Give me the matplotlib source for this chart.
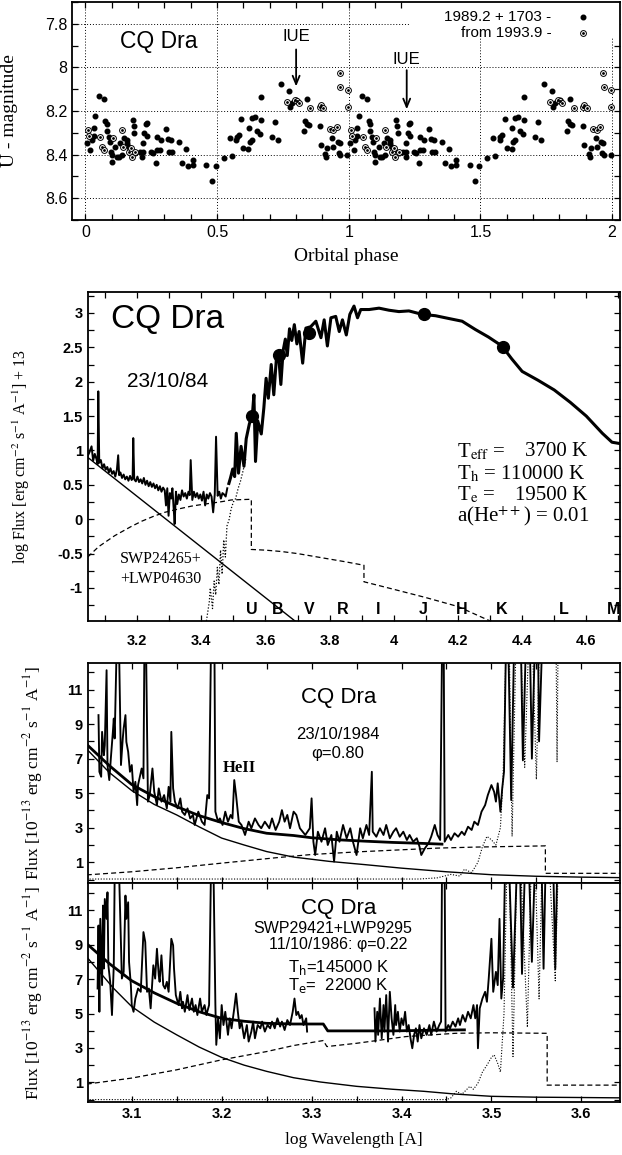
import numpy as np
import matplotlib
matplotlib.use("Agg")
import matplotlib.pyplot as plt
from matplotlib.ticker import MultipleLocator
from matplotlib.patches import Rectangle

plt.rcParams['font.family'] = ['Liberation Sans', 'DejaVu Sans']
plt.rcParams['mathtext.fontset'] = 'stix'

# ---------------- data: panel 1 (U light curve, one cycle; repeated at phase+1)
ph_fill = [0.051, 0.070, 0.038, 0.004, 0.019, 0.032, 0.032, 0.025, 0.076, 0.080,
           0.082, 0.089, 0.092, 0.097, 0.101, 0.099, 0.114, 0.120, 0.127, 0.139,
           0.133, 0.146, 0.156, 0.158, 0.165, 0.171, 0.181, 0.184, 0.186, 0.190,
           0.206, 0.219, 0.219, 0.216, 0.224, 0.232, 0.228, 0.234, 0.247, 0.257,
           0.266, 0.272, 0.270, 0.282, 0.287, 0.304, 0.313, 0.323, 0.316, 0.329,
           0.354, 0.367, 0.382, 0.389, 0.408, 0.409, 0.459, 0.481, 0.494, 0.525,
           0.548, 0.557, 0.573, 0.576, 0.582, 0.592, 0.599, 0.618, 0.620, 0.624,
           0.633, 0.633, 0.642, 0.652, 0.661, 0.665, 0.667, 0.709, 0.719, 0.730,
           0.741, 0.772, 0.776, 0.785, 0.801, 0.842, 0.832, 0.840, 0.848, 0.829,
           0.890, 0.895, 0.911, 0.915, 0.918, 0.937, 0.941, 0.958, 0.966, 0.962,
           0.968, 0.994]
mag_fill = [8.133, 8.146, 8.222, 8.347, 8.378, 8.279, 8.314, 8.332, 8.248, 8.259,
            8.294, 8.317, 8.340, 8.386, 8.401, 8.436, 8.363, 8.409, 8.409, 8.401,
            8.347, 8.324, 8.332, 8.347, 8.363, 8.378, 8.240, 8.271, 8.302, 8.393,
            8.386, 8.347, 8.386, 8.409, 8.302, 8.314, 8.259, 8.256, 8.386, 8.393,
            8.439, 8.317, 8.378, 8.378, 8.332, 8.283, 8.329, 8.335, 8.390, 8.390,
            8.340, 8.439, 8.375, 8.454, 8.427, 8.447, 8.447, 8.523, 8.454, 8.416,
            8.324, 8.406, 8.332, 8.320, 8.309, 8.237, 8.370, 8.373, 8.279, 8.340,
            8.332, 8.233, 8.228, 8.294, 8.306, 8.243, 8.138, 8.321, 8.251, 8.332,
            8.075, 8.110, 8.182, 8.164, 8.149, 8.144, 8.248, 8.259, 8.263, 8.294,
            8.271, 8.355, 8.396, 8.409, 8.370, 8.324, 8.363, 8.340, 8.347, 8.393,
            8.401, 8.401]
ph_open = [0.010, 0.013, 0.054, 0.063, 0.070, 0.105, 0.139, 0.143, 0.165, 0.173,
           0.177, 0.190, 0.766, 0.794, 0.804, 0.810, 0.854, 0.890, 0.895, 0.903,
           0.966, 0.968, 0.996, 0.996, 0.928, 0.941, 0.954]
mag_open = [8.289, 8.314, 8.317, 8.363, 8.378, 8.324, 8.289, 8.363, 8.386, 8.370,
            8.409, 8.390, 8.161, 8.149, 8.156, 8.164, 8.187, 8.182, 8.172, 8.187,
            8.026, 8.092, 8.103, 8.182, 8.283, 8.286, 8.274]

# ---------------- data: panel 2 (SED, log flux + 13)
uv_x = [3.046, 3.052, 3.058, 3.063, 3.068, 3.073, 3.077, 3.079, 3.082, 3.087,
        3.092, 3.097, 3.102, 3.107, 3.112, 3.117, 3.122, 3.127, 3.132, 3.137,
        3.141, 3.144, 3.148, 3.153, 3.158, 3.163, 3.168, 3.173, 3.178, 3.183,
        3.186, 3.188, 3.191, 3.196, 3.201, 3.206, 3.211, 3.216, 3.221, 3.226,
        3.231, 3.236, 3.241, 3.246, 3.251, 3.256, 3.261, 3.266, 3.271, 3.276,
        3.281, 3.286, 3.290, 3.294, 3.298, 3.302, 3.306, 3.310, 3.314, 3.317,
        3.321, 3.325, 3.330, 3.335, 3.340, 3.345, 3.350, 3.355, 3.360, 3.364,
        3.367, 3.372, 3.377, 3.382, 3.387, 3.392, 3.397, 3.402, 3.407, 3.412,
        3.417, 3.422, 3.427, 3.432, 3.437, 3.442, 3.446, 3.451, 3.456, 3.461,
        3.466, 3.471, 3.476, 3.481]
uv_y = [0.92, 0.98, 1.06, 0.85, 0.95, 0.88, 0.80, 1.86, 0.82, 0.86,
        0.74, 0.80, 0.72, 0.76, 0.68, 0.74, 0.66, 0.70, 0.62, 0.72,
        0.93, 0.64, 0.68, 0.60, 0.65, 0.58, 0.62, 0.56, 0.63, 0.57,
        0.60, 1.18, 0.58, 0.55, 0.62, 0.54, 0.58, 0.52, 0.60, 0.50,
        0.56, 0.48, 0.54, 0.47, 0.52, 0.45, 0.50, 0.42, 0.48, 0.40,
        0.46, 0.42, 0.20, 0.45, 0.05, 0.38, 0.30, 0.45, 0.15, -0.07,
        0.40, 0.22, 0.36, 0.28, 0.42, 0.33, 0.38, 0.30, 0.40, 0.35,
        0.86, 0.28, 0.40, 0.32, 0.38, 0.30, 0.36, 0.27, 0.40, 0.20,
        0.36, 0.30, 0.38, 0.33, 0.10, 0.36, 1.20, 0.34, 0.40, 0.30,
        0.38, 0.36, 0.33, 0.45]
opt_x = [3.486, 3.491, 3.498, 3.504, 3.509, 3.516, 3.524, 3.533, 3.540, 3.550,
         3.559, 3.564, 3.569, 3.576, 3.587, 3.595, 3.602, 3.609, 3.618, 3.626,
         3.634, 3.641, 3.648, 3.655, 3.662, 3.668, 3.675, 3.682, 3.690, 3.698,
         3.705, 3.716, 3.726, 3.741, 3.757, 3.773, 3.783, 3.793, 3.804, 3.819,
         3.830, 3.840, 3.852, 3.863, 3.876, 3.887, 3.897, 3.923, 3.954, 3.985,
         4.016, 4.047, 4.088, 4.130, 4.171, 4.213, 4.254, 4.295, 4.337, 4.368,
         4.400, 4.450, 4.500, 4.550, 4.600, 4.650, 4.680, 4.705]
opt_y = [0.52, 0.60, 0.73, 0.62, 1.25, 0.67, 1.06, 0.77, 1.17, 1.39,
         1.50, 1.81, 0.84, 1.43, 1.24, 1.62, 2.05, 1.76, 2.25, 1.81,
         2.33, 2.39, 1.96, 2.45, 2.62, 2.38, 2.77, 2.60, 2.83, 2.55,
         2.73, 2.27, 2.78, 2.80, 2.88, 2.64, 2.90, 2.52, 2.93, 2.95,
         2.73, 2.90, 2.68, 2.98, 3.10, 2.93, 3.05, 3.05, 3.07, 3.04,
         3.02, 3.03, 2.98, 2.96, 2.92, 2.88, 2.76, 2.65, 2.52, 2.33,
         2.15, 2.02, 1.88, 1.70, 1.50, 1.25, 1.12, 1.10]
hot2_x = [3.046, 3.70]
hot2_y = [0.90, -1.51]
neb2_x = [3.046, 3.08, 3.13, 3.18, 3.214, 3.25, 3.286, 3.33, 3.369, 3.41, 3.442,
          3.47, 3.493, 3.556, 3.556, 3.60, 3.65, 3.70, 3.75, 3.80, 3.85, 3.907,
          3.907, 4.0, 4.1, 4.2, 4.30, 4.40]
neb2_y = [-0.55, -0.40, -0.24, -0.11, -0.03, 0.04, 0.10, 0.15, 0.19, 0.22, 0.24,
          0.26, 0.28, 0.29, -0.44, -0.45, -0.47, -0.50, -0.54, -0.58, -0.62, -0.67,
          -0.91, -1.02, -1.14, -1.27, -1.48, -1.60]
cool2_x = [3.416, 3.425, 3.428, 3.435, 3.440, 3.445, 3.450, 3.455, 3.460, 3.465,
           3.470, 3.475, 3.480, 3.487, 3.493, 3.500, 3.507, 3.515, 3.522, 3.530, 3.540]
cool2_y = [-1.48, -1.20, -1.00, -1.30, -0.90, -1.10, -0.70, -0.95, -0.45, -0.80,
           -0.30, -0.55, -0.10, 0.00, 0.15, 0.25, 0.30, 0.45, 0.55, 0.70, 0.90]
phot_x = [3.559, 3.641, 3.737, 4.094, 4.340]
phot_y = [1.50, 2.39, 2.71, 2.985, 2.505]
bands = ['U', 'B', 'V', 'R', 'I', 'J', 'H', 'K', 'L', 'M']
band_x = [3.557, 3.638, 3.737, 3.840, 3.952, 4.091, 4.211, 4.337, 4.530, 4.685]

# ---------------- data: panel 3 (23/10/1984, 1e-13 flux units)
obs3_x = [3.063, 3.064, 3.066, 3.067, 3.069, 3.070, 3.072, 3.073, 3.075, 3.077,
          3.079, 3.080, 3.081, 3.083, 3.086, 3.088, 3.090, 3.091, 3.093, 3.094,
          3.096, 3.098, 3.100, 3.102, 3.104, 3.106, 3.107, 3.111, 3.113, 3.114,
          3.116, 3.118, 3.120, 3.123, 3.125, 3.128, 3.130, 3.133, 3.136, 3.139,
          3.141, 3.143, 3.144, 3.146, 3.148, 3.151, 3.154, 3.156, 3.159, 3.162,
          3.165, 3.168, 3.170, 3.174, 3.178, 3.181, 3.184, 3.186, 3.188, 3.192,
          3.193, 3.196, 3.198, 3.201, 3.204, 3.207, 3.210, 3.212, 3.214, 3.216,
          3.219, 3.222, 3.226, 3.230, 3.233, 3.237, 3.241, 3.244, 3.248, 3.253,
          3.256, 3.260, 3.264, 3.267, 3.270, 3.273, 3.276, 3.280, 3.283, 3.287,
          3.293, 3.298, 3.300, 3.302, 3.304, 3.307, 3.311, 3.315, 3.318, 3.322,
          3.325, 3.328, 3.331, 3.335, 3.339, 3.343, 3.346, 3.350, 3.354, 3.357,
          3.361, 3.364, 3.367, 3.368, 3.372, 3.376, 3.380, 3.383, 3.387, 3.391,
          3.394, 3.398, 3.402, 3.406, 3.409, 3.413, 3.417, 3.420, 3.422, 3.426,
          3.430, 3.433, 3.437, 3.440, 3.443, 3.445, 3.447, 3.448, 3.452, 3.455,
          3.459, 3.463, 3.467, 3.470, 3.474, 3.478, 3.481, 3.485, 3.489, 3.493,
          3.496, 3.500, 3.503, 3.505, 3.507, 3.510, 3.512, 3.514, 3.516, 3.519,
          3.522, 3.525, 3.529, 3.533, 3.535, 3.538, 3.543, 3.545, 3.548, 3.552,
          3.553, 3.556]
obs3_y = [9.52, 6.24, 5.95, 8.55, 7.20, 7.78, 12.12, 6.63, 5.76, 7.20,
          8.55, 9.32, 8.17, 13.0, 13.0, 6.63, 8.17, 8.75, 9.52, 7.97,
          7.40, 6.24, 6.63, 5.08, 5.66, 4.31, 5.47, 6.43, 5.86, 13.0,
          13.0, 4.51, 4.89, 6.43, 5.08, 4.31, 5.28, 4.51, 4.89, 4.12,
          5.37, 4.51, 8.55, 5.28, 4.51, 4.12, 4.70, 3.93, 3.74, 4.12,
          3.54, 3.74, 3.16, 3.93, 3.35, 3.16, 4.89, 4.70, 13.0, 13.0,
          3.93, 3.35, 3.54, 3.16, 3.93, 3.35, 3.74, 3.54, 5.76, 4.89,
          3.35, 3.16, 2.58, 3.35, 2.97, 3.54, 3.16, 2.97, 3.35, 2.97,
          3.54, 2.87, 3.35, 4.02, 3.35, 3.74, 2.97, 3.93, 3.74, 2.97,
          2.58, 2.97, 4.70, 2.19, 1.42, 2.77, 2.19, 2.97, 2.00, 2.58,
          1.04, 2.77, 2.19, 3.16, 2.39, 2.97, 2.19, 1.42, 2.97, 2.39,
          3.16, 2.58, 6.24, 2.77, 2.48, 2.97, 2.58, 3.16, 2.39, 2.77,
          2.97, 2.48, 2.77, 2.29, 2.58, 2.19, 2.39, 1.91, 1.42, 1.81,
          2.10, 2.48, 3.16, 2.58, 2.29, 13.0, 13.0, 2.19, 2.58, 2.29,
          2.68, 2.48, 2.77, 2.58, 3.06, 2.87, 3.35, 3.16, 3.93, 4.31,
          4.89, 5.47, 5.08, 4.51, 5.57, 3.93, 5.28, 6.24, 13.0, 13.0,
          4.60, 13.0, 13.0, 13.0, 6.90, 13.0, 13.0, 7.00, 13.0, 13.0,
          8.00, 13.0]
hot3_x = [3.05, 3.075, 3.10, 3.125, 3.15, 3.175, 3.20, 3.225, 3.25, 3.28,
          3.32, 3.36, 3.40, 3.45, 3.50, 3.55, 3.60, 3.645]
hot3_y = [7.55, 6.20, 5.15, 4.35, 3.74, 3.05, 2.40, 2.00, 1.62, 1.30,
          1.05, 0.86, 0.66, 0.45, 0.28, 0.19, 0.14, 0.11]
tot3_x = [3.05, 3.075, 3.10, 3.125, 3.15, 3.175, 3.20, 3.225, 3.25, 3.28,
          3.30, 3.33, 3.36, 3.39, 3.42, 3.445]
tot3_y = [7.82, 6.60, 5.50, 4.80, 4.22, 3.70, 3.30, 2.95, 2.68, 2.55,
          2.42, 2.30, 2.22, 2.15, 2.10, 2.05]
neb3_x = [3.05, 3.10, 3.15, 3.20, 3.262, 3.30, 3.35, 3.395, 3.44, 3.483, 3.56, 3.56, 3.645]
neb3_y = [0.27, 0.45, 0.68, 0.95, 1.27, 1.45, 1.60, 1.71, 1.82, 1.88, 1.95, 0.36, 0.36]
cool3_x = [3.05, 3.42, 3.44, 3.455, 3.465, 3.47, 3.478, 3.485, 3.49, 3.495,
           3.50, 3.505, 3.51, 3.513, 3.516, 3.52, 3.523, 3.527, 3.533, 3.537,
           3.541, 3.546, 3.55, 3.553, 3.558, 3.572, 3.573, 3.574]
cool3_y = [0.03, 0.03, 0.10, 0.30, 0.20, 0.60, 0.40, 1.00, 1.90, 2.50,
           2.30, 2.00, 3.00, 6.00, 13.0, 13.0, 2.50, 13.0, 13.0, 6.50,
           13.0, 13.0, 5.80, 13.0, 13.0, 13.0, 6.80, 13.0]

# ---------------- data: panel 4 (11/10/1986)
obs4_x = [3.062, 3.063, 3.064, 3.065, 3.067, 3.068, 3.069, 3.070, 3.072, 3.073,
          3.074, 3.076, 3.078, 3.080, 3.081, 3.086, 3.089, 3.091, 3.093, 3.094,
          3.096, 3.097, 3.099, 3.100, 3.102, 3.104, 3.106, 3.107, 3.110, 3.113,
          3.115, 3.117, 3.119, 3.121, 3.124, 3.126, 3.128, 3.130, 3.131, 3.133,
          3.135, 3.137, 3.139, 3.141, 3.144, 3.146, 3.147, 3.149, 3.152, 3.154,
          3.156, 3.157, 3.159, 3.162, 3.164, 3.167, 3.169, 3.171, 3.173, 3.176,
          3.178, 3.181, 3.183, 3.186, 3.188, 3.191, 3.193, 3.194, 3.196, 3.198,
          3.200, 3.202, 3.204, 3.207, 3.209, 3.211, 3.214, 3.216, 3.218, 3.220,
          3.222, 3.225, 3.228, 3.230, 3.233, 3.235, 3.237, 3.240, 3.243, 3.245,
          3.248, 3.251, 3.254, 3.256, 3.259, 3.262, 3.265, 3.267, 3.270, 3.273,
          3.276, 3.279, 3.281, 3.283, 3.285, 3.287, 3.289, 3.291, 3.294, 3.295,
          3.330,
          3.370, 3.371, 3.373, 3.374, 3.376, 3.378, 3.380, 3.381, 3.383, 3.385,
          3.387, 3.389, 3.391, 3.393, 3.394, 3.396, 3.398, 3.400, 3.402, 3.404,
          3.406, 3.408, 3.410, 3.412, 3.414, 3.416, 3.418, 3.420, 3.422, 3.425,
          3.428, 3.431, 3.433, 3.436, 3.439, 3.442, 3.444, 3.445, 3.448, 3.449,
          3.452, 3.454, 3.457, 3.460, 3.463, 3.465, 3.468, 3.471, 3.474, 3.477,
          3.480, 3.482, 3.484, 3.485, 3.487, 3.490, 3.493, 3.495, 3.497, 3.500,
          3.502, 3.505, 3.507, 3.509, 3.511, 3.513, 3.515, 3.520, 3.524, 3.528,
          3.532, 3.534, 3.537, 3.542, 3.545, 3.548, 3.556, 3.558, 3.560, 3.569,
          3.571, 3.573]
obs4_y = [6.45, 10.11, 5.10, 10.50, 6.65, 11.27, 7.61, 11.65, 10.50, 12.04,
          7.80, 6.84, 4.91, 7.80, 13.0, 13.0, 7.03, 7.42, 11.85, 10.50,
          11.46, 7.99, 6.65, 5.49, 5.10, 5.87, 6.26, 6.45, 6.26, 9.73,
          9.15, 6.26, 6.45, 5.30, 7.80, 7.03, 8.76, 7.22, 6.84, 8.38,
          6.65, 6.45, 6.84, 6.26, 9.34, 8.96, 7.61, 6.07, 5.49, 6.26,
          5.30, 5.68, 5.10, 6.07, 5.20, 5.87, 5.10, 5.49, 4.91, 5.87,
          5.10, 5.49, 4.91, 5.49, 13.0, 13.0, 5.49, 3.18, 4.72, 3.56,
          5.49, 4.33, 5.10, 3.76, 4.72, 4.14, 5.30, 6.16, 5.10, 4.14,
          4.53, 3.56, 4.33, 3.37, 3.95, 4.53, 3.56, 4.33, 4.14, 4.53,
          3.95, 4.33, 4.14, 4.53, 4.14, 4.72, 4.24, 4.53, 4.04, 4.62,
          4.33, 5.10, 5.87, 4.91, 5.10, 4.72, 4.91, 4.33, 4.72, 3.95,
          np.nan,
          5.30, 3.37, 5.10, 3.76, 5.87, 3.56, 5.49, 3.95, 6.07, 3.37,
          6.26, 4.72, 3.76, 5.49, 4.33, 5.10, 3.95, 4.72, 4.33, 5.10,
          3.95, 4.33, 3.56, 2.98, 3.76, 4.14, 3.37, 4.33, 3.56, 4.14,
          3.76, 4.33, 3.76, 4.53, 3.95, 4.33, 4.53, 13.0, 13.0, 3.95,
          4.33, 4.14, 4.53, 4.24, 4.72, 4.33, 4.91, 4.53, 5.10, 4.72,
          5.49, 4.72, 5.49, 2.98, 5.30, 5.87, 6.26, 5.68, 7.03, 9.34,
          6.26, 7.42, 6.65, 10.50, 5.87, 7.03, 13.0, 13.0, 6.50, 13.0,
          13.0, 7.30, 13.0, 13.0, 8.00, 13.0, 13.0, 7.60, 13.0, 13.0,
          7.60, 13.0]
hot4_x = [3.05, 3.08, 3.10, 3.125, 3.15, 3.175, 3.20, 3.225, 3.25, 3.28,
          3.31, 3.35, 3.39, 3.425, 3.46, 3.50, 3.55, 3.60, 3.645]
hot4_y = [8.28, 6.45, 5.40, 4.50, 3.76, 3.05, 2.45, 2.00, 1.64, 1.27,
          1.02, 0.77, 0.60, 0.48, 0.32, 0.19, 0.14, 0.12, 0.10]
tot4_x = [3.05, 3.075, 3.10, 3.125, 3.15, 3.175, 3.20, 3.225, 3.25, 3.28,
          3.313, 3.318, 3.39, 3.45, 3.47]
tot4_y = [9.05, 7.90, 6.90, 6.20, 5.59, 5.10, 4.72, 4.55, 4.43, 4.39,
          4.39, 3.99, 3.99, 4.04, 4.05]
neb4_x = [3.05, 3.10, 3.15, 3.20, 3.25, 3.28, 3.313, 3.317, 3.35, 3.405,
          3.46, 3.50, 3.562, 3.562, 3.645]
neb4_y = [0.90, 1.25, 1.73, 2.31, 2.79, 3.14, 3.43, 3.08, 3.27, 3.66,
          3.85, 3.88, 3.85, 0.84, 0.84]
cool4_x = [3.05, 3.45, 3.455, 3.461, 3.467, 3.476, 3.48, 3.485, 3.49, 3.495,
           3.50, 3.503, 3.507, 3.51, 3.514, 3.517, 3.52, 3.524, 3.528, 3.533,
           3.54, 3.544, 3.549, 3.553, 3.556, 3.565, 3.571, 3.574]
cool4_y = [0.0, 0.0, 0.10, 0.48, 0.30, 0.77, 0.60, 0.95, 1.60, 2.00,
           2.45, 2.60, 2.10, 1.60, 5.00, 13.0, 13.0, 2.50, 13.0, 13.0,
           4.20, 13.0, 13.0, 5.85, 13.0, 13.0, 6.90, 13.0]


def style(ax, xmaj, xmin, ymaj, ymin, lsize=10.5, weight='normal'):
    ax.xaxis.set_major_locator(MultipleLocator(xmaj))
    ax.xaxis.set_minor_locator(MultipleLocator(xmin))
    ax.yaxis.set_major_locator(MultipleLocator(ymaj))
    ax.yaxis.set_minor_locator(MultipleLocator(ymin))
    ax.tick_params(which='both', direction='in', top=True, right=True,
                   length=4.5, width=0.9, labelsize=lsize)
    for lab in ax.get_xticklabels() + ax.get_yticklabels():
        lab.set_fontweight(weight)
    for s in ax.spines.values():
        s.set_linewidth(1.3)


def fmt(v, pos):
    return ('%g' % v)


fig = plt.figure(figsize=(6.22, 11.55), dpi=100)

# ================= panel 1
ax1 = fig.add_axes([72.3 / 622, 1 - 220 / 1155, 547.7 / 622, 218 / 1155])
ax1.set_xlim(-0.05, 2.03)
ax1.set_ylim(8.70, 7.70)
style(ax1, 0.5, 0.1, 0.2, 0.1, lsize=11.5)
ax1.xaxis.set_major_formatter(fmt)
ax1.yaxis.set_major_formatter(fmt)
ax1.grid(True, which='major', linestyle=(0, (1, 2)), color='black', linewidth=0.7)
ax1.add_patch(Rectangle((1.23, 7.70), 0.85, 0.16, facecolor='white',
                        edgecolor='none', zorder=2))
for off in (0, 1):
    fx = [p + off for p in ph_fill]
    ox = [p + off for p in ph_open]
    ax1.plot(fx, mag_fill, 'o', color='black', markersize=3.3, zorder=3)
    ax1.plot(ox, mag_open, 'o', mfc='white', mec='black', mew=0.7,
             markersize=4.2, zorder=3)
    ax1.plot(ox, mag_open, 'o', color='black', markersize=1.0, zorder=4)
ax1.text(1.77, 7.769, '1989.2 + 1703 -', ha='right', va='center', fontsize=11, zorder=5)
ax1.text(1.77, 7.843, 'from 1993.9 -', ha='right', va='center', fontsize=11, zorder=5)
ax1.plot([1.89], [7.769], 'o', color='black', markersize=3.3, zorder=5)
ax1.plot([1.89], [7.843], 'o', mfc='white', mec='black', mew=0.7, markersize=4.2, zorder=5)
ax1.plot([1.89], [7.843], 'o', color='black', markersize=1.0, zorder=6)
ax1.text(0.28, 7.883, 'CQ Dra', ha='center', va='center', fontsize=16.5)
ax1.text(0.80, 7.86, 'IUE', ha='center', va='center', fontsize=12)
ax1.annotate('', xy=(0.80, 8.10), xytext=(0.80, 7.905),
             arrowprops=dict(arrowstyle='->,head_length=0.6,head_width=0.25',
                             color='black', lw=1.3))
ax1.text(1.22, 7.965, 'IUE', ha='center', va='center', fontsize=12)
ax1.annotate('', xy=(1.22, 8.205), xytext=(1.22, 8.0),
             arrowprops=dict(arrowstyle='->,head_length=0.6,head_width=0.25',
                             color='black', lw=1.3))
ax1.set_xlabel('Orbital phase', family='Liberation Serif', fontsize=14, labelpad=6)
ax1.set_ylabel('U - magnitude', family='Liberation Serif', fontsize=14)
ax1.yaxis.set_label_coords(-0.099, 0.5)

# ================= panel 2
ax2 = fig.add_axes([87.7 / 622, 1 - 621.3 / 1155, 532.3 / 622, 329.3 / 1155])
ax2.set_xlim(3.046, 4.705)
ax2.set_ylim(-1.485, 3.305)
style(ax2, 0.2, 0.1, 0.5, 0.25, lsize=10.5, weight='bold')
ax2.xaxis.set_major_formatter(fmt)
ax2.yaxis.set_major_formatter(fmt)
ax2.tick_params(axis='x', pad=9)
ax2.plot(uv_x, uv_y, color='black', lw=1.4)
ax2.plot(opt_x, opt_y, color='black', lw=2.2)
ax2.plot(hot2_x, hot2_y, color='black', lw=1.0)
ax2.plot(neb2_x, neb2_y, color='black', lw=0.9, linestyle=(0, (4, 2.5)))
ax2.plot(cool2_x, cool2_y, color='black', lw=0.9, linestyle=(0, (1, 1.5)))
ax2.plot(phot_x, phot_y, 'o', color='black', markersize=8.5)
for b, bx in zip(bands, band_x):
    ax2.text(bx, -1.32, b, ha='center', va='center', fontsize=11.5,
             fontweight='bold', clip_on=False)
ax2.text(3.294, 2.90, 'CQ Dra', ha='center', va='center', fontsize=24)
ax2.text(3.294, 2.01, '23/10/84', ha='center', va='center', fontsize=15)
ax2.text(3.147, -0.72, 'SWP24265+\n+LWP04630', ha='left', va='center',
         family='Liberation Serif', fontsize=11.5, linespacing=1.3)
tx_l = 4.196
tx_r = 4.603
ax2.text(tx_l, 0.98, r'T$_\mathrm{eff}$ =', ha='left', va='center',
         family='Liberation Serif', fontsize=15, math_fontfamily='stix')
ax2.text(tx_r, 0.98, '3700 K', ha='right', va='center',
         family='Liberation Serif', fontsize=15)
ax2.text(tx_l, 0.665, r'T$_\mathrm{h}$ = 110000 K', ha='left', va='center',
         family='Liberation Serif', fontsize=15, math_fontfamily='stix')
ax2.text(tx_l, 0.35, r'T$_\mathrm{e}$ =', ha='left', va='center',
         family='Liberation Serif', fontsize=15, math_fontfamily='stix')
ax2.text(tx_r, 0.35, '19500 K', ha='right', va='center',
         family='Liberation Serif', fontsize=15)
ax2.text(tx_l, 0.04, r'a(He$^{++}$) = 0.01', ha='left', va='center',
         family='Liberation Serif', fontsize=15, math_fontfamily='stix')
ax2.set_ylabel(r'log Flux [erg cm$^{-2}$ s$^{-1}$ A$^{-1}$] + 13',
               family='Liberation Serif', fontsize=11.5, math_fontfamily='stix')
ax2.yaxis.set_label_coords(-0.105, 0.5)

# ================= panels 3 and 4
ylab = r'Flux [10$^{-13}$ erg cm$^{-2}$ s$^{-1}$ A$^{-1}$]'
ax3 = fig.add_axes([87.7 / 622, 1 - 883 / 1155, 532.3 / 622, 219.7 / 1155])
ax4 = fig.add_axes([87.7 / 622, 1 - 1102 / 1155, 532.3 / 622, 219 / 1155])
for ax, lo in ((ax3, -0.2), (ax4, -0.14)):
    ax.set_xlim(3.051, 3.643)
    ax.set_ylim(lo, lo + 12.72)
    style(ax, 0.1, 0.05, 2, 1, lsize=10.5, weight='bold')
    ax.yaxis.set_major_locator(plt.FixedLocator([1, 3, 5, 7, 9, 11]))
    ax.xaxis.set_major_formatter(fmt)
    ax.set_ylabel(ylab, family='Liberation Serif', fontsize=12.5,
                  math_fontfamily='stix')
    ax.yaxis.set_label_coords(-0.08, 0.5)
ax3.tick_params(axis='x', labelbottom=False)

ax3.plot(obs3_x, obs3_y, color='black', lw=1.35)
ax3.plot(tot3_x, tot3_y, color='black', lw=2.0)
ax3.plot(hot3_x, hot3_y, color='black', lw=1.0)
ax3.plot(neb3_x, neb3_y, color='black', lw=0.9, linestyle=(0, (4, 2.5)))
ax3.plot(cool3_x, cool3_y, color='black', lw=0.8, linestyle=(0, (1, 1.5)))
ax3.text(3.330, 10.55, 'CQ Dra', ha='center', va='center', fontsize=16)
ax3.text(3.329, 8.42, '23/10/1984', ha='center', va='center', fontsize=12)
ax3.text(3.329, 7.32, '\u03c6=0.80', ha='center', va='center', fontsize=12)
ax3.text(3.220, 6.45, 'HeII', ha='center', va='center', family='Liberation Serif',
         fontsize=12, fontweight='bold')

ax4.plot(obs4_x, obs4_y, color='black', lw=1.35)
ax4.plot(tot4_x, tot4_y, color='black', lw=2.0)
ax4.plot(hot4_x, hot4_y, color='black', lw=1.0)
ax4.plot(neb4_x, neb4_y, color='black', lw=0.9, linestyle=(0, (4, 2.5)))
ax4.plot(cool4_x, cool4_y, color='black', lw=0.8, linestyle=(0, (1, 1.5)))
ax4.text(3.330, 11.1, 'CQ Dra', ha='center', va='center', fontsize=16)
ax4.text(3.323, 9.96, 'SWP29421+LWP9295', ha='center', va='center', fontsize=11.5)
ax4.text(3.330, 9.01, '11/10/1986: \u03c6=0.22', ha='center', va='center', fontsize=11.5)
ax4.text(3.274, 7.66, r'T$_\mathrm{h}$=145000 K', ha='left', va='center',
         fontsize=12, math_fontfamily='dejavusans')
ax4.text(3.274, 6.62, r'T$_\mathrm{e}$=  22000 K', ha='left', va='center',
         fontsize=12, math_fontfamily='dejavusans')
ax4.set_xlabel('log Wavelength [A]', family='Liberation Serif', fontsize=12.5,
               labelpad=8)

fig.savefig('out.png', dpi=100)
